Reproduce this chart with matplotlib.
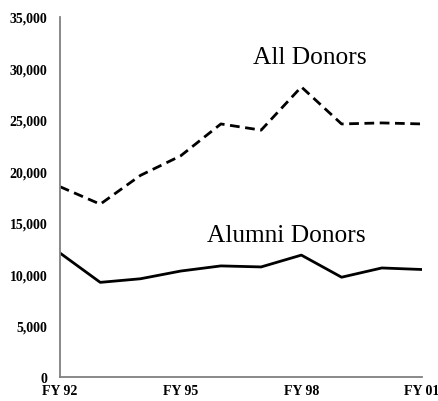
import numpy as np
import matplotlib.pyplot as plt

years = ['FY 92', 'FY 93', 'FY 94', 'FY 95', 'FY 96', 'FY 97', 'FY 98', 'FY 99', 'FY 00', 'FY 01']
all_donors = [18500, 16800, 19600, 21500, 24600, 24000, 28200, 24600, 24700, 24600]
alumni_donors = [12050, 9200, 9550, 10300, 10800, 10700, 11850, 9700, 10600, 10450]
y_ticks = [0, 5000, 10000, 15000, 20000, 25000, 30000, 35000]

plt.rcParams['font.family'] = ['Liberation Serif', 'DejaVu Serif']

fig = plt.figure(figsize=(4.39, 4.02), dpi=100)
ax = fig.add_axes([0.1367, 0.0597, 0.8246, 0.8956])

x = np.arange(len(years))
ax.plot(x, all_donors, color='black', lw=2.0, ls=(0, (3.5, 2)))
ax.plot(x, alumni_donors, color='black', lw=2.0)

ax.set_xlim(0, len(years) - 1)
ax.set_ylim(0, 35000)
ax.set_yticks(y_ticks)
ax.set_yticklabels(['{:,}'.format(v) for v in y_ticks], fontsize=10, fontweight='bold')
ax.set_xticks([0, 3, 6, 9])
ax.set_xticklabels([years[i] for i in [0, 3, 6, 9]], fontsize=10, fontweight='bold')
ax.tick_params(axis='y', length=0, pad=9)
ax.tick_params(axis='x', length=0, pad=5)

for s in ['top', 'right']:
    ax.spines[s].set_visible(False)
for s in ['left', 'bottom']:
    ax.spines[s].set_color('#808080')
    ax.spines[s].set_linewidth(1.3)

ax.text(6.2, 30000, 'All Donors', fontsize=18.3, ha='center', va='bottom')
ax.text(5.62, 12700, 'Alumni Donors', fontsize=18.3, ha='center', va='bottom')

fig.savefig('out.png', dpi=100)
